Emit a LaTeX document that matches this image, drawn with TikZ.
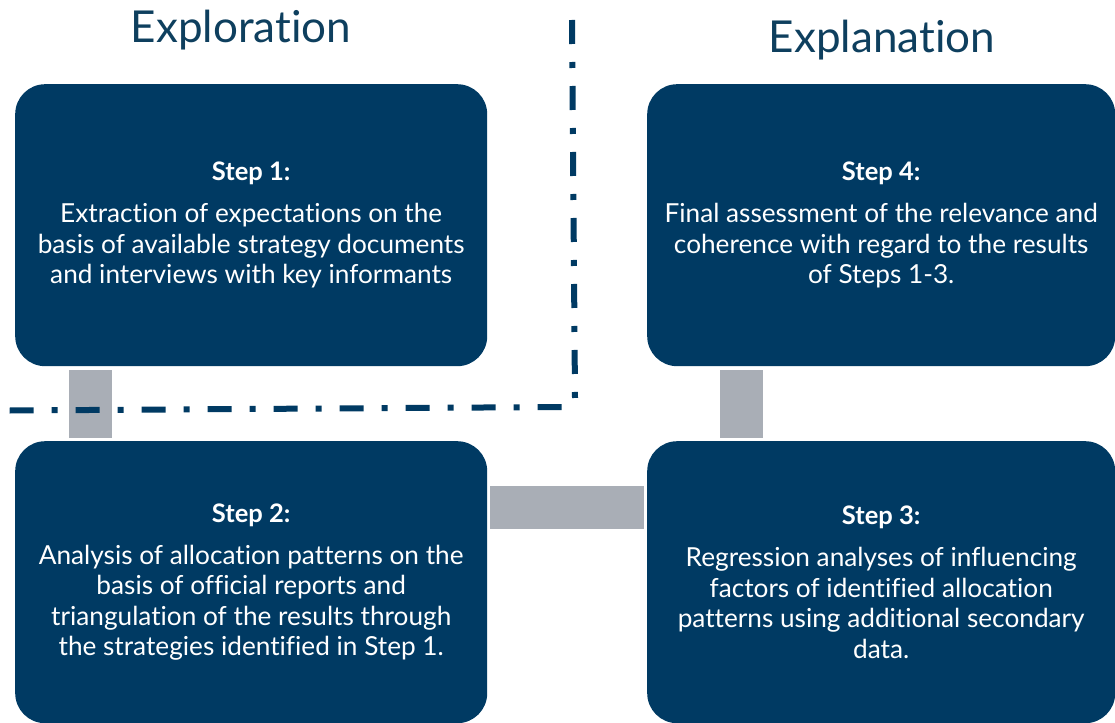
\documentclass[tikz,border=0pt]{standalone}
\usepackage{fontspec}
\setmainfont{Lato}[Ligatures=NoCommon]
\usetikzlibrary{calc}
\definecolor{boxblue}{HTML}{003A63}
\definecolor{bargray}{HTML}{A9AEB6}
\definecolor{titleblue}{HTML}{0E3F5E}
\newcommand\steptitle[1]{{\fontsize{25.5}{30.5}\selectfont\bfseries #1}}
\begin{document}
\begin{tikzpicture}[x=1pt,y=-1pt,
  box/.style={fill=boxblue, rounded corners=30pt, minimum width=472pt,
    minimum height=282pt, anchor=north west, inner sep=0pt, align=center,
    text=white, font=\fontsize{26.2}{30.5}\selectfont},
  bar/.style={draw=bargray, line width=43pt},
  heading/.style={text=titleblue, font=\fontsize{44}{52}\selectfont, anchor=base, inner sep=0pt},
  divider/.style={draw=boxblue, line width=6pt, dash pattern=on 24pt off 18pt on 6pt off 18pt}]
\useasboundingbox (0,0) rectangle (1115,722);
\clip (0,0) rectangle (1115,722);
\node[heading] (t1) at (241,43) {Exploration};
\node[heading] (t2) at (882,53) {Explanation};
\node[box] (b1) at (15,84) {\steptitle{Step 1:}\\[11.5pt]
  Extraction of expectations on the\\
  basis of available strategy documents\\
  and interviews with key informants};
\node[box] (b2) at (15,441) {\steptitle{Step 2:}\\[11.5pt]
  Analysis of allocation patterns on the\\
  basis of official reports and\\
  triangulation of the results through\\
  the strategies identified in Step 1.};
\node[box, minimum width=468pt] (b4) at (647,84) {\steptitle{Step 4:}\\[11.5pt]
  Final assessment of the relevance and\\
  coherence with regard to the results\\
  of Steps 1-3.};
\node[box, minimum width=468pt] (b3) at (647,441) {\steptitle{Step 3:}\\[11.5pt]
  Regression analyses of influencing\\
  factors of identified allocation\\
  patterns using additional secondary\\
  data.};
\draw[bar] ($(b1.south west)+(75,4)$) -- ($(b2.north west)+(75,-3)$);
\draw[bar] ($(b4.south west)+(94.5,4)$) -- ($(b3.north west)+(94.5,-3)$);
\draw[bar] ($(b2.east)+(3,-74.5)$) -- ($(b3.west)+(-3,-74.5)$);
\draw[divider] (9.6,410.5) -- (562,407);
\draw[divider] (572,20) -- (575,398);
\end{tikzpicture}
\end{document}
